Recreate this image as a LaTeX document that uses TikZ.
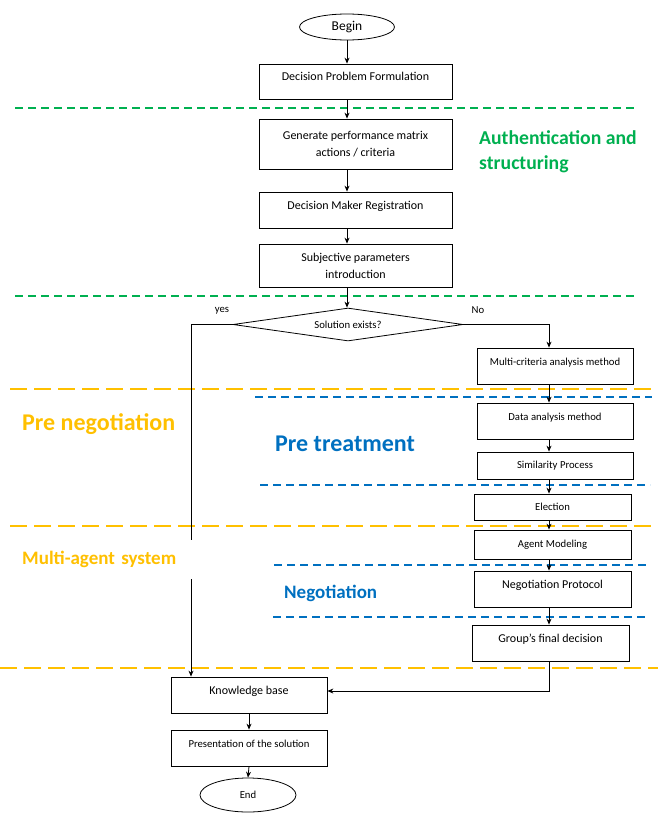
\documentclass[tikz,border=0pt]{standalone}
\usepackage{fontspec}
\setmainfont{Carlito}
\usetikzlibrary{shapes.geometric,arrows.meta}
\definecolor{grn}{RGB}{0,176,80}
\definecolor{ylw}{RGB}{255,192,0}
\definecolor{blu}{RGB}{0,112,192}
\tikzset{
  box/.style={draw,line width=0.8pt,align=center,inner sep=0pt},
  raised/.style={text height=8pt,text depth=10pt},
  fs/.style={font=\fontsize{10.7}{15}\selectfont},
  fm/.style={font=\fontsize{12}{17}\selectfont},
  arr/.style={-{Stealth[length=6pt,width=5pt]},line width=0.8pt},
  sep/.style={line width=1.6pt,dash pattern=on 8pt off 5pt},
  wide/.style={line width=1.6pt,dash pattern=on 17pt off 7pt},
  zone/.style={anchor=west,inner sep=0pt,align=left}
}
\begin{document}
\begin{tikzpicture}[x=1pt,y=-1pt]
  \useasboundingbox (0,0) rectangle (658,816);
  \draw[sep,grn] (15,108) -- (637,108);
  \draw[sep,grn] (15,296) -- (636,296);
  \draw[wide,ylw] (10,389) -- (658,389);
  \draw[wide,ylw] (10,526) -- (658,526);
  \draw[wide,ylw] (0,668) -- (658,668);
  \draw[sep,blu] (255,397) -- (652,397);
  \draw[sep,blu] (260,485) -- (650,485);
  \draw[sep,blu] (274,565) -- (646,565);
  \draw[sep,blu] (273,617) -- (647,617);

  \node[draw,ellipse,line width=0.8pt,inner sep=0pt,minimum width=95pt,minimum height=26pt,font=\fontsize{13.5}{15}\selectfont] (begin) at (347,27) {Begin};
  \node[box,raised,fm,minimum width=193pt,minimum height=35pt] (dpf) at (355.5,81.5) {Decision Problem Formulation};
  \node[box,fm,minimum width=193pt,minimum height=50pt] (gen) at (355.5,144) {Generate performance matrix\\actions / criteria};
  \node[box,raised,fm,minimum width=193pt,minimum height=36pt] (dmr) at (355.5,210) {Decision Maker Registration};
  \node[box,fm,minimum width=193pt,minimum height=43pt] (spi) at (355.5,265.5) {Subjective parameters\\introduction};
  \node[draw,diamond,aspect=7,line width=0.8pt,inner sep=0pt,minimum width=230pt,minimum height=33pt,fs] (sol) at (348,324.5) {Solution exists?};
  \coordinate (lc) at (191,324.5);
  \coordinate (rc) at (549,324.5);
  \node[fs] (yes) at (222,311) {yes};
  \node[fs] (no) at (478,310) {No};

  \node[box,raised,fs,minimum width=156pt,minimum height=36pt] (mca) at (555,366) {Multi-criteria analysis method};
  \node[box,raised,fs,minimum width=156pt,minimum height=36pt] (dam) at (555,421) {Data analysis method};
  \node[box,fs,minimum width=156pt,minimum height=27pt] (sim) at (555,465.5) {Similarity Process};
  \node[box,fs,minimum width=157pt,minimum height=26pt] (ele) at (552.5,507) {Election};
  \node[box,fs,minimum width=157pt,minimum height=29pt] (agm) at (552.5,544.5) {Agent Modeling};
  \node[box,raised,fm,minimum width=157pt,minimum height=36pt] (np) at (552.5,589) {Negotiation Protocol};
  \node[box,raised,fm,minimum width=157pt,minimum height=36pt] (gfd) at (550.5,643) {Group's final decision};

  \node[box,raised,fm,minimum width=156pt,minimum height=36pt] (kb) at (249,695) {Knowledge base};
  \node[box,raised,fs,minimum width=156pt,minimum height=36pt] (pres) at (249,748) {Presentation of the solution};
  \node[draw,ellipse,line width=0.8pt,inner sep=0pt,minimum width=96pt,minimum height=34pt,fs] (end) at (248,795) {End};

  \draw[arr] (begin.south) -- (begin.south |- dpf.north);
  \foreach \a/\b in {dpf/gen,gen/dmr,dmr/spi,spi/sol}
    \draw[arr] (begin |- \a.south) -- (begin |- \b.north);
  \draw[arr] (sol.west) -- (lc) -- (lc |- kb.north);
  \draw[arr] (sol.east) -- (rc) -- (rc |- mca.north);
  \foreach \a/\b in {mca/dam,dam/sim,sim/ele,ele/agm,agm/np,np/gfd}
    \draw[arr] (rc |- \a.south) -- (rc |- \b.north);
  \draw[arr] (rc |- gfd.south) |- ([yshift=4pt]kb.east);
  \draw[arr] (kb.south) -- (pres.north);
  \draw[arr] (pres.south) -- (end.north);

  \node[zone,text=grn,font=\bfseries\fontsize{19.7}{25}\selectfont] (auth) at (479,151.5) {Authentication and\\structuring};
  \node[zone,text=ylw,font=\bfseries\fontsize{24}{28}\selectfont] (prenego) at (22,424) {Pre negotiation};
  \node[zone,text=blu,font=\bfseries\fontsize{24}{28}\selectfont] (pretreat) at (275,444) {Pre treatment};
  \node[zone,text=ylw,fill=white,inner xsep=7pt,text width=175pt,minimum height=39pt,font=\bfseries\fontsize{19}{22}\selectfont] (mas) at (15,559) {Multi-agent system};
  \node[zone,text=blu,font=\bfseries\fontsize{19}{22}\selectfont] (nego) at (284,593) {Negotiation};
\end{tikzpicture}
\end{document}
